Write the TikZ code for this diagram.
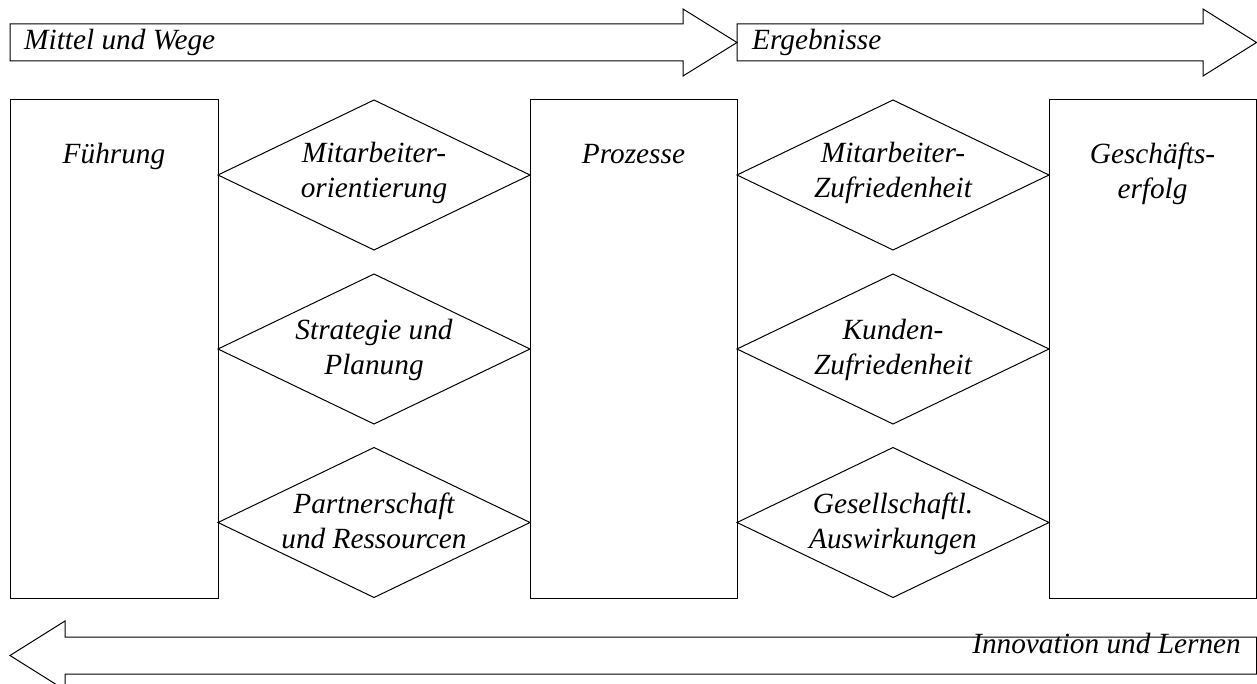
\documentclass[tikz,border=0pt]{standalone}
\usepackage{fontspec}
\setmainfont{Liberation Serif}
\usetikzlibrary{shapes.geometric}
\begin{document}
\begin{tikzpicture}[x=1pt,y=-1pt,
  outline/.style={draw=black, line width=1pt, line join=miter},
  panel/.style={outline, rectangle, inner sep=0pt, outer sep=0pt, anchor=north west, minimum height=498pt},
  rhomb/.style={outline, diamond, inner sep=0pt, outer sep=0pt, minimum width=312pt, minimum height=150pt},
  lbl/.style={font=\itshape\fontsize{29.3}{35}\selectfont, align=center, inner sep=0pt},
]
\useasboundingbox (0,0) rectangle (1257,684);
\clip (0,0) rectangle (1257,684);

% top band arrows
\draw[outline] (10,24) -- (683,24) -- (683,9) -- (737,42.5) -- (683,76) -- (683,61) -- (10,61) -- cycle;
\draw[outline] (737,24) -- (1203,24) -- (1203,9) -- (1256.5,42.5) -- (1203,76) -- (1203,61) -- (737,61) -- cycle;
\node[lbl, anchor=base west] (mittel) at (24,50) {Mittel und Wege};
\node[lbl, anchor=base west] (ergebnisse) at (752,50) {Ergebnisse};

% bottom band arrow
\draw[outline] (1256.5,637) -- (65,637) -- (65,621) -- (10,655.5) -- (65,690) -- (65,674) -- (1256.5,674) -- cycle;
\node[lbl, anchor=base east] (innovation) at (1241,653) {Innovation und Lernen};

% columns
\node[panel, minimum width=208pt] (fuehrung) at (10,100) {};
\node[panel, minimum width=207pt] (prozesse) at (530,100) {};
\node[panel, minimum width=207.5pt] (erfolg) at (1049,100) {};
\node[lbl, anchor=base] (tfuehrung) at (114,164) {Führung};
\node[lbl, anchor=base] (tprozesse) at (633.5,164) {Prozesse};
% two-line labels: the base anchor sits on the last line
\node[lbl, anchor=base] (terfolg) at (1152.5,199) {Geschäfts-\\erfolg};

% enablers
\node[rhomb] (d1) at (374,175) {};
\node[rhomb] (d2) at (374,349) {};
\node[rhomb] (d3) at (374,522.5) {};
\node[lbl, anchor=base] (td1) at (374,198) {Mitarbeiter-\\orientierung};
\node[lbl, anchor=base] (td2) at (374,374) {Strategie und\\Planung};
\node[lbl, anchor=base] (td3) at (374,548) {Partnerschaft\\und Ressourcen};

% results
\node[rhomb] (e1) at (893,175) {};
\node[rhomb] (e2) at (893,349) {};
\node[rhomb] (e3) at (893,522.5) {};
\node[lbl, anchor=base] (te1) at (893,198) {Mitarbeiter-\\Zufriedenheit};
\node[lbl, anchor=base] (te2) at (893,374) {Kunden-\\Zufriedenheit};
\node[lbl, anchor=base] (te3) at (893,548) {Gesellschaftl.\\Auswirkungen};
\end{tikzpicture}
\end{document}
